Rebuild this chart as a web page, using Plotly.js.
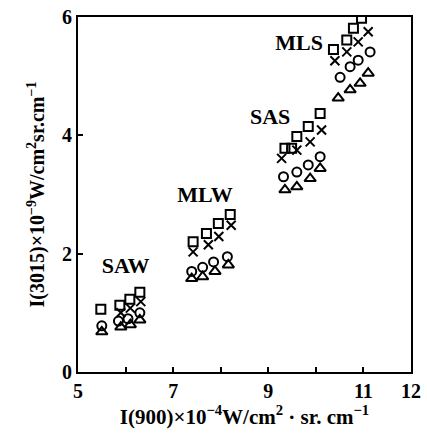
<!DOCTYPE html>
<html>
<head>
<meta charset="utf-8">
<script src="https://cdn.plot.ly/plotly-3.0.1.min.js"></script>
<style>html,body{margin:0;padding:0;background:#fff;}#chart{width:427px;height:434px;}</style>
</head>
<body>
<div id="chart"></div>
<script>
// Square series
const sqX = [5.48, 5.88, 6.09, 6.30, 7.42, 7.70, 7.95, 8.20, 9.35, 9.49, 9.60, 9.84, 10.09, 10.37, 10.65, 10.79, 10.96];
const sqY = [1.06, 1.13, 1.23, 1.35, 2.20, 2.34, 2.51, 2.66, 3.78, 3.78, 3.98, 4.15, 4.37, 5.45, 5.61, 5.81, 5.98];
// Cross series
const crX = [5.90, 6.10, 6.32, 7.42, 7.74, 7.96, 8.22, 9.28, 9.60, 9.88, 10.12, 10.40, 10.65, 10.89, 11.10];
const crY = [1.00, 1.08, 1.19, 2.03, 2.15, 2.29, 2.48, 3.61, 3.75, 3.89, 4.09, 5.26, 5.41, 5.58, 5.75];
// Circle series
const ciX = [5.50, 5.85, 6.05, 6.30, 7.39, 7.62, 7.85, 8.14, 9.32, 9.60, 9.84, 10.09, 10.51, 10.72, 10.89, 11.14];
const ciY = [0.78, 0.86, 0.90, 1.00, 1.70, 1.77, 1.86, 1.95, 3.30, 3.38, 3.50, 3.64, 4.98, 5.16, 5.27, 5.41];
// Triangle series
const trX = [5.50, 5.90, 6.10, 6.30, 7.39, 7.62, 7.88, 8.16, 9.35, 9.60, 9.88, 10.09, 10.47, 10.72, 10.93, 11.10];
const trY = [0.68, 0.76, 0.80, 0.88, 1.58, 1.61, 1.70, 1.81, 3.08, 3.13, 3.27, 3.44, 4.63, 4.77, 4.88, 5.05];
// Group labels
const grpText = ["SAW", "MLW", "SAS", "MLS"];
const grpX = [6.0, 7.67, 9.04, 9.65];
const grpY = [1.76, 2.97, 4.29, 5.53];
// Axis ticks
const xTickVals = [5, 7, 9, 11, 12];
const xTickText = ["5", "7", "9", "11", "12"];
const yTickVals = [0, 2, 4, 6];
const yTickText = ["0", "2", "4", "6"];

const serif = "Liberation Serif, DejaVu Serif, serif";
const mk = (sym, sz) => ({symbol: sym, size: sz, color: "#000", line: {color: "#000", width: 2}});
const bold = a => a.map(t => "<b>" + t + "</b>");

const traces = [
  {x: sqX, y: sqY, mode: "markers", type: "scatter", marker: mk("square-open", 9)},
  {x: crX, y: crY, mode: "markers", type: "scatter", marker: mk("x-thin-open", 9)},
  {x: ciX, y: ciY, mode: "markers", type: "scatter", marker: mk("circle-open", 9)},
  {x: trX, y: trY, mode: "markers", type: "scatter", marker: mk("triangle-up-open", 10)},
  {x: grpX, y: grpY, mode: "text", type: "scatter", text: bold(grpText), textposition: "middle center",
   textfont: {family: serif, size: 22, color: "#000"}}
];

const layout = {
  width: 427, height: 434,
  margin: {l: 78, r: 16, t: 17, b: 62},
  paper_bgcolor: "#fff", plot_bgcolor: "#fff",
  showlegend: false,
  xaxis: {
    range: [5, 12], tickvals: xTickVals, ticktext: bold(xTickText),
    ticks: "inside", ticklen: 5, tickwidth: 2, tickcolor: "#000",
    minor: {tickmode: "linear", tick0: 5, dtick: 1, ticks: "inside", ticklen: 5, tickwidth: 2, tickcolor: "#000", showgrid: false},
    showgrid: false, zeroline: false, showline: true, linecolor: "#000", linewidth: 2, mirror: true,
    tickfont: {family: serif, size: 20, color: "#000"},
    title: {text: "<b>I(900)×10<sup>−4</sup>W/cm<sup>2</sup> · sr. cm<sup>−1</sup></b>", standoff: 6,
            font: {family: serif, size: 21, color: "#000"}}
  },
  yaxis: {
    range: [0, 6], tickvals: yTickVals, ticktext: bold(yTickText),
    ticks: "inside", ticklen: 5, tickwidth: 2, tickcolor: "#000",
    showgrid: false, zeroline: false, showline: true, linecolor: "#000", linewidth: 2, mirror: true,
    tickfont: {family: serif, size: 20, color: "#000"},
    title: {text: "<b>I(3015)×10<sup>−9</sup>W/cm<sup>2</sup>sr.cm<sup>−1</sup></b>", standoff: 12,
            font: {family: serif, size: 20, color: "#000"}}
  }
};

Plotly.newPlot("chart", traces, layout, {displayModeBar: false, staticPlot: true});
</script>
</body>
</html>
